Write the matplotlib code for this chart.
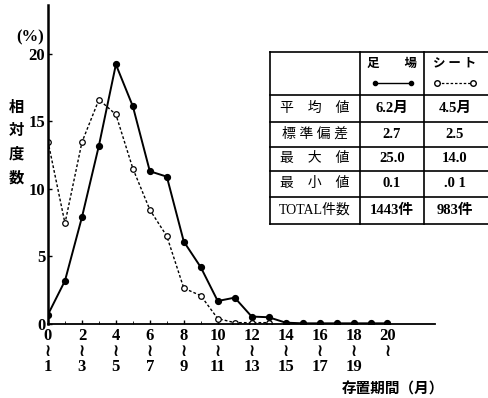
import matplotlib.pyplot as plt
import numpy as np

plt.rcParams['font.family'] = ['Liberation Serif', 'Noto Sans CJK JP', 'DejaVu Sans']

months = np.arange(0, 21)
ashiba = [0.7, 3.2, 7.9, 13.2, 19.2, 16.1, 11.3, 10.9, 6.1, 4.2, 1.7, 1.95,
          0.55, 0.5, 0.1, 0.05, 0.05, 0.05, 0.05, 0.05, 0.05]
sheet_months = np.arange(0, 14)
sheet = [13.5, 7.45, 13.45, 16.6, 15.5, 11.5, 8.45, 6.5, 2.65, 2.1, 0.4, 0.1, 0.1, 0.1]

row_labels = ['平　均　値', '標 準 偏 差', '最　大　値', '最　小　値', 'TOTAL件数']
col_ashiba = ['6.2月', '2.7', '25.0', '0.1', '1443件']
col_sheet = ['4.5月', '2.5', '14.0', '.0 1', '983件']

fig = plt.figure(figsize=(4.88, 3.98), dpi=100)
ax = fig.add_axes([48 / 488, 74 / 398, 387 / 488, 319 / 398])

ax.plot(months, ashiba, '-', color='black', lw=1.4, marker='o', ms=4.2, mfc='black')
ax.plot(sheet_months, sheet, linestyle=(0, (2, 1.5)), color='black', lw=1.0,
        marker='o', ms=4, mfc='white', mew=0.9)

ax.set_xlim(0, 22.8)
ax.set_ylim(0, 23.6)
for s in ['top', 'right']:
    ax.spines[s].set_visible(False)
ax.spines['left'].set_linewidth(1.8)
ax.spines['bottom'].set_linewidth(1.3)

ax.set_yticks([0, 5, 10, 15, 20])
ax.set_yticklabels(['0', '5', '10', '15', '20'], fontsize=12, fontweight='bold')
ax.set_xticks(np.arange(0, 21, 2))
ax.set_xticklabels([f'{m}\n≀\n{m + 1}' if m < 20 else f'{m}\n≀\n ' for m in range(0, 21, 2)],
                   fontsize=12, fontweight='bold', linespacing=0.95)
ax.set_xticks(np.arange(0, 21, 1), minor=True)
ax.tick_params(axis='both', direction='in', length=3, width=1, pad=2)
ax.tick_params(axis='x', which='minor', direction='in', length=2)
ax.tick_params(axis='x', pad=3)

fig.text(30 / 488, 1 - 37 / 398, '(%)', fontsize=12, ha='center', va='center', fontweight='bold')
for i, ch in enumerate('相対度数'):
    fig.text(16 / 488, 1 - (107 + i * 23.5) / 398, ch, fontsize=11, ha='center', va='center',
             family=['Noto Sans CJK JP'], fontweight='bold')
fig.text(393 / 488, 1 - 389 / 398, '存置期間（月）', fontsize=10.5, ha='center', va='center',
         family=['Noto Sans CJK JP'], fontweight='bold')

# summary table drawn in pixel coordinates
tab = fig.add_axes([270 / 488, 1 - 224 / 398, 1 - 270 / 488, (224 - 52) / 398])
tab.set_xlim(270, 488)
tab.set_ylim(224, 52)
tab.axis('off')
rows_y = [52, 95, 121.7, 146.7, 171, 196.7, 224]
cols_x = [270, 360, 423.5, 500]
for y in rows_y:
    tab.plot([270, 500], [y, y], color='black', lw=1.2, clip_on=False)
for x in cols_x[:-1]:
    tab.plot([x, x], [52, 224], color='black', lw=1.2, clip_on=False)

tab.text(392, 63, '足　　場', fontsize=9, ha='center', va='center',
         family=['Noto Sans CJK JP'], fontweight='bold')
tab.text(455, 63, 'シ ー ト', fontsize=9, ha='center', va='center',
         family=['Noto Sans CJK JP'], fontweight='bold')
tab.plot([375, 411], [83, 83], '-', color='black', lw=1.0, marker='o', ms=3,
         markevery=[0, 1])
tab.plot([437, 473], [83, 83], linestyle=(0, (2, 1.5)), color='black', lw=0.9,
         marker='o', ms=4, mfc='white', markevery=[0, 1])

for i, (lab, a, s) in enumerate(zip(row_labels, col_ashiba, col_sheet)):
    yc = (rows_y[i + 1] + rows_y[i + 2]) / 2
    tab.text(315, yc, lab, fontsize=10, ha='center', va='center')
    tab.text(392, yc, a, fontsize=10.5, ha='center', va='center', fontweight='bold')
    tab.text(455, yc, s, fontsize=10.5, ha='center', va='center', fontweight='bold')

fig.savefig('out.png', dpi=100)
